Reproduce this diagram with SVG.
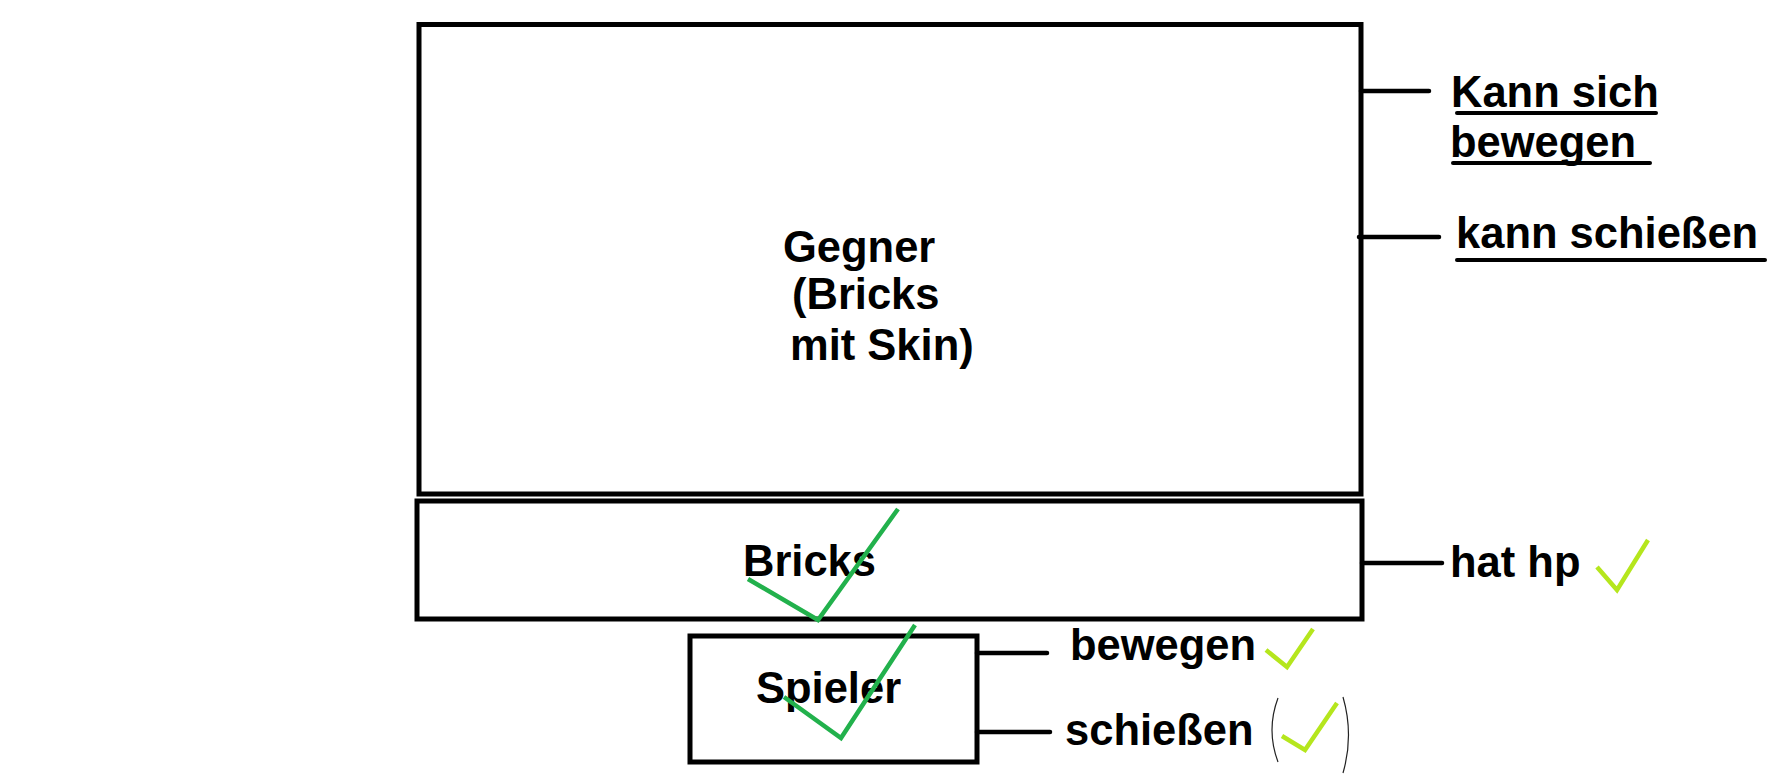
<svg xmlns="http://www.w3.org/2000/svg" width="1779" height="782" viewBox="0 0 1779 782">
<style>
.box{fill:none;stroke:#000;stroke-width:5}
.con{stroke:#000;stroke-width:4.5;stroke-linecap:round;fill:none}
.ul{stroke:#000;stroke-width:4;stroke-linecap:round;fill:none}
.t{font-family:"Liberation Sans",Arial,sans-serif;font-weight:bold;font-size:43.5px;fill:#000}
.chk{fill:none;stroke:#22b14c;stroke-width:4.5;stroke-linejoin:miter}
.chkl{fill:none;stroke:#b5e61d;stroke-width:4.5;stroke-linejoin:miter}
.par{fill:none;stroke:#222;stroke-width:1.2}
</style>
<rect width="1779" height="782" fill="#fff"/>
<g id="gegner">
<rect class="box" x="419" y="24.5" width="942" height="469.5"/>
<text class="t" x="783" y="262">Gegner</text>
<text class="t" x="792" y="309">(Bricks</text>
<text class="t" x="790" y="360">mit Skin)</text>
</g>
<g id="bricks">
<rect class="box" x="417" y="501" width="945" height="118"/>
<text class="t" x="743" y="576">Bricks</text>
</g>
<g id="spieler">
<rect class="box" x="690" y="636" width="287" height="126"/>
<text class="t" x="756" y="703">Spieler</text>
</g>
<g id="connectors">
<line class="con" x1="1361" y1="91" x2="1429" y2="91"/>
<line class="con" x1="1359" y1="237" x2="1439" y2="237"/>
<line class="con" x1="1362" y1="563" x2="1442" y2="563"/>
<line class="con" x1="977" y1="653" x2="1047" y2="653"/>
<line class="con" x1="977" y1="732" x2="1050" y2="732"/>
</g>
<g id="label-kann-sich-bewegen">
<text class="t" x="1451" y="107">Kann sich</text>
<line class="ul" x1="1457" y1="113" x2="1656" y2="113"/>
<text class="t" x="1450" y="157">bewegen</text>
<line class="ul" x1="1453" y1="163" x2="1650" y2="163"/>
</g>
<g id="label-kann-schiessen">
<text class="t" x="1456" y="248">kann schießen</text>
<line class="ul" x1="1457" y1="260" x2="1765" y2="260"/>
</g>
<g id="label-hat-hp">
<text class="t" x="1450" y="577">hat hp</text>
<polyline class="chkl" points="1597,567 1617,590 1648,540"/>
</g>
<g id="label-bewegen">
<text class="t" x="1070" y="660">bewegen</text>
<polyline class="chkl" points="1266,650 1287,667 1313,629"/>
</g>
<g id="label-schiessen">
<text class="t" x="1065" y="745">schießen</text>
<path class="par" d="M1278,698 Q1266,730 1278,762"/>
<path class="par" d="M1343,697 Q1354,735 1343,773"/>
<polyline class="chkl" points="1282,736 1305,750 1337,703"/>
</g>
<g id="checks">
<polyline class="chk" points="748,579 818,620 898,509"/>
<polyline class="chk" points="784,697 841,738 915,625"/>
</g>
</svg>
